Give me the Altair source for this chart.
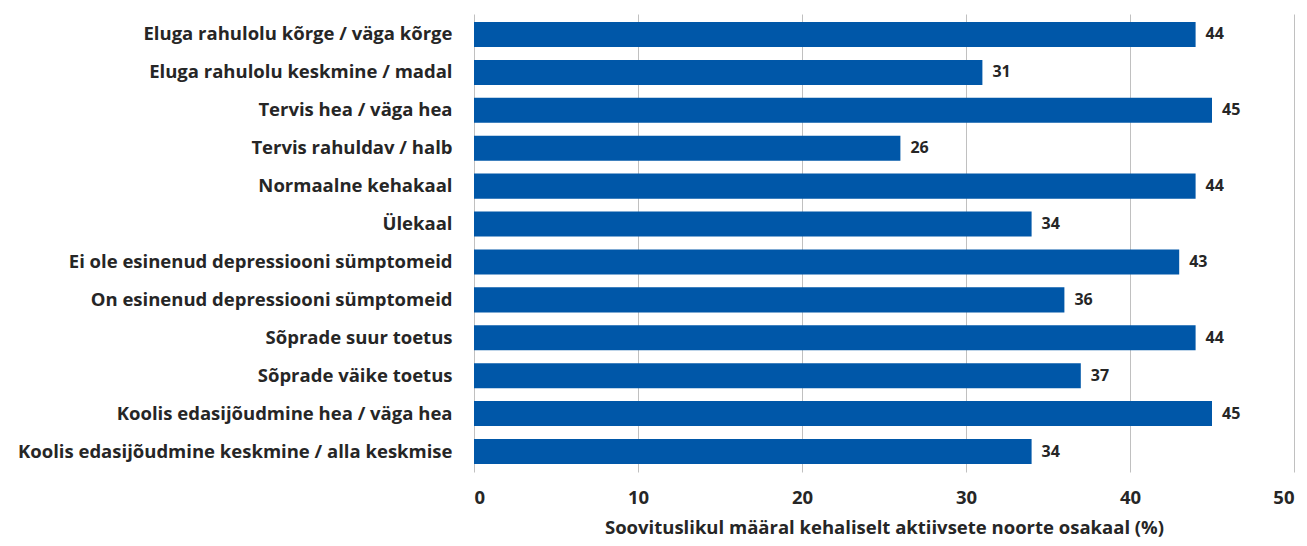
import altair as alt
import pandas as pd

categories = [
    "Eluga rahulolu kõrge / väga kõrge",
    "Eluga rahulolu keskmine / madal",
    "Tervis hea / väga hea",
    "Tervis rahuldav / halb",
    "Normaalne kehakaal",
    "Ülekaal",
    "Ei ole esinenud depressiooni sümptomeid",
    "On esinenud depressiooni sümptomeid",
    "Sõprade suur toetus",
    "Sõprade väike toetus",
    "Koolis edasijõudmine hea / väga hea",
    "Koolis edasijõudmine keskmine / alla keskmise",
]
values = [44, 31, 45, 26, 44, 34, 43, 36, 44, 37, 45, 34]

df = pd.DataFrame({"cat": categories, "val": values})

FONT = "Open Sans"
TXT = "#262626"

base = alt.Chart(df).encode(
    y=alt.Y("cat:N", sort=categories, title=None,
            scale=alt.Scale(paddingInner=0.34, paddingOuter=0.21),
            axis=alt.Axis(labelFont=FONT, labelFontSize=18.5, labelFontWeight="bold",
                          labelColor=TXT, labelPadding=22, ticks=False, domain=False,
                          labelLimit=600)),
)

bars = base.mark_bar(color="#0057A8").encode(
    x=alt.X("val:Q", scale=alt.Scale(domain=[0, 50]),
            title="Soovituslikul määral kehaliselt aktiivsete noorte osakaal (%)",
            axis=alt.Axis(values=[0, 10, 20, 30, 40, 50], grid=True, gridColor="#c0c0c0",
                          gridWidth=1, ticks=False, domain=False,
                          labelFont=FONT, labelFontSize=18.5, labelFontWeight="bold",
                          labelColor=TXT, labelPadding=16,
                          titleFont=FONT, titleFontSize=18.5, titleFontWeight="bold",
                          titleColor=TXT, titlePadding=12))
)

text = base.mark_text(align="left", dx=10, font=FONT, fontSize=16, fontWeight="bold",
                      color=TXT).encode(x="val:Q", text="val:Q")

chart = (bars + text).properties(
    width=820, height=458,
    autosize=alt.AutoSizeParams(type="none"),
    padding={"left": 466, "top": 6, "right": 5, "bottom": 66},
).configure_view(stroke=None)

chart.save("out.html", embed_options={"renderer": "svg", "actions": False})
